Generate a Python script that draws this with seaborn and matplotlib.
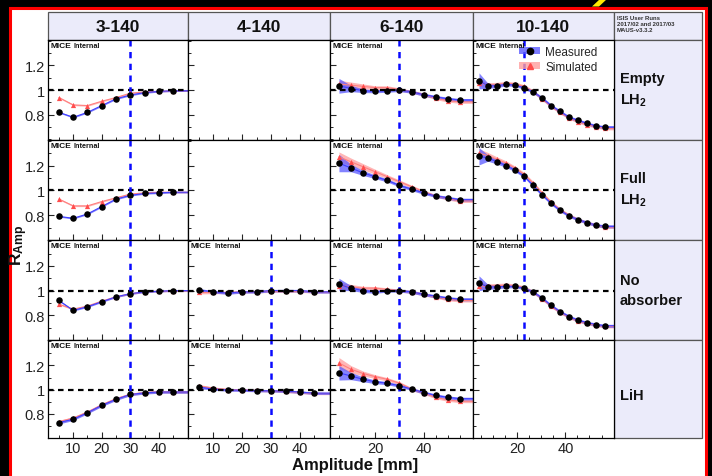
import matplotlib
matplotlib.use("Agg")
import matplotlib.pyplot as plt
from matplotlib.patches import Rectangle, Polygon, Patch
from matplotlib.lines import Line2D
import seaborn as sns

sns.set_style("ticks")
plt.rcParams['font.family'] = ['Liberation Sans', 'DejaVu Sans']
plt.rcParams['mathtext.fontset'] = 'custom'
plt.rcParams['mathtext.rm'] = 'Liberation Sans'
plt.rcParams['mathtext.it'] = 'Liberation Sans:italic'
plt.rcParams['mathtext.bf'] = 'Liberation Sans:bold'

# ---------------- data ----------------
columns = ["3-140", "4-140", "6-140", "10-140"]
row_labels = ["Empty\nLH$_\\mathbf{2}$", "Full\nLH$_\\mathbf{2}$", "No\nabsorber", "LiH"]
run_info = "ISIS User Runs\n2017/02 and 2017/03\nMAUS-v3.3.2"
legend_labels = ["Measured", "Simulated"]
x_label = "Amplitude [mm]"
y_label = r"$\mathbf{R_{Amp}}$"

x_a = [5, 10, 15, 20, 25, 30, 35, 40, 45]
x_c = [5, 10, 15, 20, 25, 30, 35, 40, 45, 50, 55]
x_d = [4.0, 7.75, 11.5, 15.25, 19.0, 22.75, 26.5, 30.25, 34.0, 37.75, 41.5, 45.25, 49.0, 52.75, 56.5]
cut_lines = [30, 30, 30, 22.75]
xmajor_a = [10, 20, 30, 40]
xminor_a = [5, 15, 25, 35, 45]
xmajor_c = [20, 40]
xminor_c = [5, 10, 15, 25, 30, 35, 45, 50, 55]
ytick_vals = [0.8, 1.0, 1.2]
ytick_labels = ["0.8", "1", "1.2"]
yminor_vals = [0.6, 0.7, 0.9, 1.1, 1.3, 1.4]

# 3-140
e3_meas = [0.82, 0.78, 0.82, 0.875, 0.93, 0.96, 0.98, 0.99, 0.995]
e3_sim = [0.94, 0.88, 0.875, 0.91, 0.94, 0.975, 0.985, 0.99, 0.995]
f3_meas = [0.79, 0.775, 0.81, 0.87, 0.93, 0.96, 0.975, 0.98, 0.985]
f3_sim = [0.93, 0.875, 0.875, 0.91, 0.94, 0.97, 0.98, 0.985, 0.985]
n3_meas = [0.92, 0.84, 0.87, 0.91, 0.95, 0.975, 0.99, 0.995, 1.0]
n3_sim = [0.89, 0.85, 0.875, 0.915, 0.95, 0.975, 0.99, 0.995, 0.998]
l3_meas = [0.728, 0.755, 0.81, 0.87, 0.92, 0.96, 0.973, 0.98, 0.98]
l3_sim = [0.735, 0.765, 0.815, 0.875, 0.925, 0.962, 0.975, 0.982, 0.98]
thin9 = [0.006, 0.006, 0.006, 0.006, 0.006, 0.006, 0.006, 0.006, 0.006]
mid9 = [0.012, 0.01, 0.01, 0.01, 0.01, 0.01, 0.01, 0.01, 0.01]

# 4-140
n4_meas = [1.005, 0.99, 0.98, 0.99, 0.99, 1.0, 1.0, 1.0, 0.99]
n4_sim = [0.985, 0.985, 0.985, 0.99, 0.992, 0.995, 0.995, 0.995, 0.99]
l4_meas = [1.02, 1.005, 0.997, 0.995, 0.992, 0.99, 0.987, 0.98, 0.97]
l4_sim = [1.03, 1.012, 1.0, 0.997, 0.993, 0.99, 0.985, 0.978, 0.968]

# 6-140
e6_meas = [1.035, 1.013, 0.995, 0.99, 0.995, 1.0, 0.987, 0.963, 0.945, 0.93, 0.92]
e6_sim = [1.05, 1.04, 1.03, 1.02, 1.02, 1.005, 0.987, 0.965, 0.935, 0.915, 0.905]
e6_merr = [0.06, 0.025, 0.015, 0.012, 0.012, 0.012, 0.012, 0.012, 0.012, 0.012, 0.012]
e6_serr = [0.03, 0.025, 0.02, 0.015, 0.015, 0.013, 0.012, 0.012, 0.012, 0.012, 0.012]
f6_meas = [1.22, 1.18, 1.14, 1.11, 1.08, 1.04, 1.01, 0.98, 0.955, 0.94, 0.925]
f6_sim = [1.27, 1.23, 1.19, 1.15, 1.11, 1.07, 1.03, 0.99, 0.955, 0.935, 0.915]
f6_merr = [0.07, 0.03, 0.02, 0.015, 0.013, 0.012, 0.012, 0.012, 0.012, 0.012, 0.012]
f6_serr = [0.04, 0.03, 0.025, 0.02, 0.016, 0.014, 0.012, 0.012, 0.012, 0.012, 0.012]
n6_meas = [1.05, 1.02, 1.0, 0.99, 1.0, 1.0, 0.99, 0.97, 0.955, 0.94, 0.93]
n6_sim = [1.04, 1.03, 1.02, 1.02, 1.01, 1.0, 0.99, 0.97, 0.95, 0.93, 0.92]
n6_merr = [0.05, 0.02, 0.015, 0.012, 0.012, 0.012, 0.012, 0.012, 0.012, 0.012, 0.012]
n6_serr = [0.03, 0.02, 0.015, 0.013, 0.012, 0.012, 0.012, 0.012, 0.012, 0.012, 0.012]
l6_meas = [1.139, 1.112, 1.085, 1.064, 1.053, 1.032, 1.005, 0.976, 0.952, 0.936, 0.925]
l6_sim = [1.22, 1.168, 1.133, 1.107, 1.085, 1.053, 1.005, 0.973, 0.936, 0.915, 0.904]
l6_merr = [0.06, 0.03, 0.02, 0.015, 0.013, 0.012, 0.012, 0.012, 0.012, 0.012, 0.012]
l6_serr = [0.045, 0.03, 0.02, 0.016, 0.014, 0.013, 0.012, 0.012, 0.012, 0.012, 0.012]

# 10-140
e10_meas = [1.075, 1.035, 1.035, 1.048, 1.04, 1.02, 0.987, 0.936, 0.875, 0.827, 0.78, 0.755, 0.73, 0.71, 0.70]
e10_sim = [1.06, 1.04, 1.045, 1.055, 1.05, 1.03, 0.99, 0.93, 0.87, 0.82, 0.775, 0.745, 0.72, 0.705, 0.69]
e10_merr = [0.065, 0.02, 0.015, 0.013, 0.012, 0.012, 0.012, 0.012, 0.012, 0.012, 0.012, 0.012, 0.012, 0.012, 0.012]
e10_serr = [0.03, 0.02, 0.018, 0.016, 0.015, 0.014, 0.013, 0.012, 0.012, 0.012, 0.012, 0.012, 0.012, 0.012, 0.012]
f10_meas = [1.275, 1.26, 1.23, 1.2, 1.163, 1.115, 1.04, 0.965, 0.896, 0.84, 0.795, 0.765, 0.74, 0.72, 0.71]
f10_sim = [1.30, 1.28, 1.25, 1.22, 1.18, 1.13, 1.06, 0.98, 0.905, 0.845, 0.80, 0.765, 0.74, 0.72, 0.705]
f10_merr = [0.07, 0.025, 0.018, 0.015, 0.013, 0.012, 0.012, 0.012, 0.012, 0.012, 0.012, 0.012, 0.012, 0.012, 0.012]
f10_serr = [0.035, 0.025, 0.02, 0.018, 0.016, 0.015, 0.014, 0.013, 0.012, 0.012, 0.012, 0.012, 0.012, 0.012, 0.012]
n10_meas = [1.06, 1.03, 1.03, 1.035, 1.035, 1.02, 0.99, 0.94, 0.88, 0.83, 0.79, 0.76, 0.74, 0.725, 0.715]
n10_sim = [1.04, 1.035, 1.04, 1.045, 1.04, 1.025, 0.99, 0.935, 0.875, 0.825, 0.785, 0.755, 0.735, 0.72, 0.71]
n10_merr = [0.06, 0.02, 0.015, 0.013, 0.012, 0.012, 0.012, 0.012, 0.012, 0.012, 0.012, 0.012, 0.012, 0.012, 0.012]
n10_serr = [0.03, 0.02, 0.018, 0.016, 0.015, 0.014, 0.013, 0.012, 0.012, 0.012, 0.012, 0.012, 0.012, 0.012, 0.012]

panels = {
    (0, 0): (e3_meas, e3_sim, thin9, thin9),
    (1, 0): (f3_meas, f3_sim, thin9, thin9),
    (2, 0): (n3_meas, n3_sim, thin9, thin9),
    (3, 0): (l3_meas, l3_sim, mid9, mid9),
    (2, 1): (n4_meas, n4_sim, mid9, mid9),
    (3, 1): (l4_meas, l4_sim, mid9, mid9),
    (0, 2): (e6_meas, e6_sim, e6_merr, e6_serr),
    (1, 2): (f6_meas, f6_sim, f6_merr, f6_serr),
    (2, 2): (n6_meas, n6_sim, n6_merr, n6_serr),
    (3, 2): (l6_meas, l6_sim, l6_merr, l6_serr),
    (0, 3): (e10_meas, e10_sim, e10_merr, e10_serr),
    (1, 3): (f10_meas, f10_sim, f10_merr, f10_serr),
    (2, 3): (n10_meas, n10_sim, n10_merr, n10_serr),
}
col_x = [x_a, x_a, x_c, x_d]
col_xmajor = [xmajor_a, xmajor_a, xmajor_c, xmajor_c]
col_xminor = [xminor_a, xminor_a, xminor_c, xminor_c]

# ---------------- layout (pixels) ----------------
W, H = 712, 477
cx = [47.5, 188, 330, 472.5, 614, 702]
ry = [40.5, 140.5, 241, 341, 439]
xlims = [(1.0, 50.2), (1.2, 50.4), (1.3, 60.2), (1.3, 60.2)]
ylim = (0.6, 1.41)
LAV = '#ebebfa'
BAND_B = '#5a5aff'
BAND_R = '#ff9e9e'

fig = plt.figure(figsize=(W / 100, H / 100), dpi=100, facecolor='black')
bg = fig.add_axes([0, 0, 1, 1])
bg.set_xlim(0, W)
bg.set_ylim(H, 0)
bg.axis('off')
bg.add_patch(Rectangle((10, 8.5), 696, 480, facecolor='white', edgecolor='#ff0000', lw=2.2))
bg.add_patch(Polygon([(592, 7.5), (599, 7.5), (607, 0), (600, 0)], closed=True, color='#ffea00', lw=0))

# header cells
for i in range(5):
    bg.add_patch(Rectangle((cx[i], 13), cx[i + 1] - cx[i], ry[0] - 13, facecolor=LAV,
                           edgecolor='#555555', lw=0.9))
for i, name in enumerate(columns):
    bg.text((cx[i] + cx[i + 1]) / 2, 27, name, ha='center', va='center',
            fontsize=12.5, fontweight='bold', color='#111111')
bg.text(617, 16.5, run_info, ha='left', va='top', fontsize=4.3, fontweight='bold',
        color='#333333', linespacing=1.25)

# row label cells
for j, lab in enumerate(row_labels):
    bg.add_patch(Rectangle((cx[4], ry[j]), cx[5] - cx[4], ry[j + 1] - ry[j], facecolor=LAV,
                           edgecolor='#555555', lw=0.9))
    yc = (ry[j] + ry[j + 1]) / 2 + (6 if j == 3 else 0)
    bg.text(620, yc, lab, ha='left', va='center', fontsize=10.5, fontweight='bold',
            color='#111111', linespacing=1.55)

bg.text(355, 466, x_label, ha='center', va='center', fontsize=12, fontweight='bold', color='#111111')
bg.text(19, 245, y_label, ha='center', va='center', fontsize=12.5, rotation=90, color='#111111')


def px_axes(x0, y0, x1, y1):
    return fig.add_axes([x0 / W, 1 - y1 / H, (x1 - x0) / W, (y1 - y0) / H])


for j in range(4):
    for i in range(4):
        ax = px_axes(cx[i], ry[j], cx[i + 1], ry[j + 1])
        ax.set_facecolor('white')
        ax.set_xlim(*xlims[i])
        ax.set_ylim(*ylim)
        for s in ax.spines.values():
            s.set_color('black')
            s.set_linewidth(0.9)
        ax.set_xticks(col_xmajor[i])
        ax.set_xticks(col_xminor[i], minor=True)
        ax.set_yticks(ytick_vals, labels=ytick_labels)
        ax.set_yticks(yminor_vals, minor=True)
        ax.tick_params(axis='both', which='major', direction='in', length=4, width=0.8,
                       top=False, right=False, labelsize=10.5, labelcolor='#222222', pad=2)
        ax.tick_params(axis='both', which='minor', direction='in', length=2.2, width=0.7,
                       top=False, right=False)
        ax.tick_params(labelbottom=(j == 3), labelleft=(i == 0))

        if (j, i) not in panels:
            continue
        meas, sim, merr, serr = panels[(j, i)]
        xs = col_x[i]
        xb = list(xs) + [xlims[i][1]]
        mb = list(meas) + [meas[-1]]
        sb = list(sim) + [sim[-1]]
        meb = list(merr) + [merr[-1]]
        seb = list(serr) + [serr[-1]]
        ax.fill_between(xb, [a - b for a, b in zip(sb, seb)], [a + b for a, b in zip(sb, seb)],
                        color=BAND_R, alpha=0.75, lw=0, zorder=1)
        ax.fill_between(xb, [a - b for a, b in zip(mb, meb)], [a + b for a, b in zip(mb, meb)],
                        color=BAND_B, alpha=0.75, lw=0, zorder=1.2)
        sns.lineplot(x=xb, y=sb, ax=ax, color='#ff8080', lw=0.8, estimator=None, legend=False, zorder=1.5)
        sns.lineplot(x=xb, y=mb, ax=ax, color='#4040ff', lw=0.8, estimator=None, legend=False, zorder=1.6)
        ax.axhline(1.0, color='black', lw=1.6, ls=(0, (2.5, 2)), zorder=2)
        ax.axvline(cut_lines[i], color='#0a0aff', lw=1.8, ls=(0, (2.5, 2.2)), zorder=2)
        sns.scatterplot(x=xs, y=sim, ax=ax, marker='^', s=14, color='#ff4d4d', linewidth=0,
                        legend=False, zorder=4)
        sns.scatterplot(x=xs, y=meas, ax=ax, marker='o', s=22, color='black', linewidth=0,
                        legend=False, zorder=5)
        ax.set_xlabel('')
        ax.set_ylabel('')
        ax.set_xlim(*xlims[i])
        ax.set_ylim(*ylim)
        t = ax.text(0.018, 0.94, "MICE", transform=ax.transAxes, fontsize=6, fontweight='bold',
                    ha='left', va='center', color='#111111', zorder=6)
        ax.annotate("Internal", xy=(1, 0), xycoords=t, xytext=(2, 0), textcoords='offset points',
                    fontsize=5.2, fontweight='bold', ha='left', va='bottom', color='#111111', zorder=6)

        if (j, i) == (0, 3):
            hb = (Patch(facecolor=BAND_B, alpha=0.8, lw=0),
                  Line2D([], [], marker='o', color='black', ls='none', markersize=4.5))
            hr = (Patch(facecolor=BAND_R, alpha=0.8, lw=0),
                  Line2D([], [], marker='^', color='#ff4d4d', ls='none', markersize=4))
            ax.legend(handles=[hb, hr], labels=legend_labels, loc='upper left',
                      bbox_to_anchor=(0.33, 0.94), frameon=False, fontsize=8.5,
                      handlelength=1.8, handleheight=0.5, handletextpad=0.4,
                      labelspacing=0.3, borderpad=0, borderaxespad=0)

fig.savefig("out.png", dpi=100, facecolor='black')
